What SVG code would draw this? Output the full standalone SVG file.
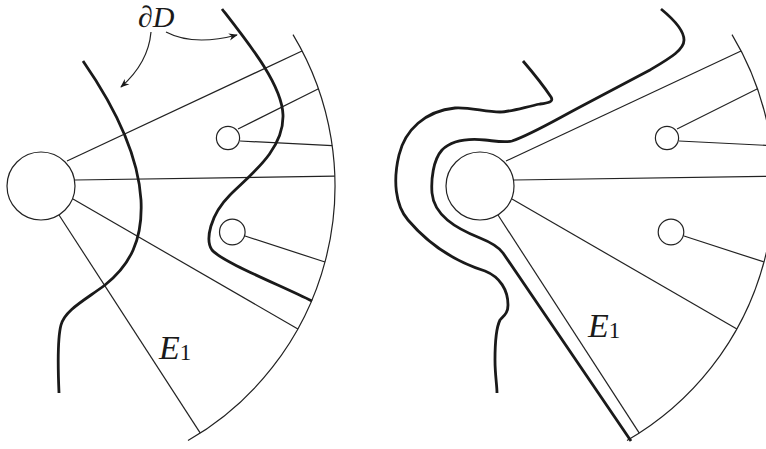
<svg xmlns="http://www.w3.org/2000/svg" width="766" height="449" viewBox="0 0 766 449">
<style>
.thin{fill:none;stroke:#222;stroke-width:1.2}
.thick{fill:none;stroke:#1a1a1a;stroke-width:2.8;stroke-linecap:butt;stroke-linejoin:round}
.node{fill:#fff;stroke:#222;stroke-width:1.2}
.lbl{font-family:"Liberation Serif","DejaVu Serif",serif;font-style:italic;fill:#1a1a1a}
.sub{font-family:"Liberation Serif","DejaVu Serif",serif;fill:#1a1a1a}
</style>
<defs>
<marker id="ah" viewBox="0 0 10 10" refX="9" refY="5" markerWidth="9" markerHeight="9" markerUnits="userSpaceOnUse" orient="auto">
<path d="M0,1 L10,5 L0,9 L3,5 Z" fill="#1a1a1a"/>
</marker>
</defs>
<rect width="766" height="449" fill="#fff"/>

<!-- left figure -->
<g id="connectors-left" class="thin">
<path d="M293,34.6 A294,294 0 0 1 188,440.6"/>
<line x1="67" y1="161" x2="302" y2="51"/>
<line x1="238" y1="129" x2="318.5" y2="88.8"/>
<line x1="240" y1="141" x2="332.2" y2="145.6"/>
<line x1="75" y1="180" x2="334.8" y2="176.2"/>
<line x1="245" y1="236" x2="325" y2="262"/>
<line x1="73" y1="199" x2="297.9" y2="329"/>
<line x1="59" y1="215" x2="200.3" y2="433.1"/>
</g>
<g id="node-left-big"><circle class="node" cx="41" cy="186" r="34"/></g>
<g id="node-left-s1"><circle class="node" cx="228" cy="138" r="11.6"/></g>
<g id="node-left-s2"><circle class="node" cx="232.3" cy="232" r="12.8"/></g>
<g id="boundary-left">
<path class="thick" d="M83,61 C110,100 138,150 141,200 C143,240 130,265 105,285 C85,300 65,310 61,325 C57,340 58,370 59,393"/>
<path class="thick" d="M222,9 C250,45 282,85 283,115 C284,150 250,175 230,195 C210,215 205,240 212,250 C222,262 280,285 312,301"/>
</g>
<g id="arrows" class="thin">
<path d="M151,32 C149,55 138,72 121,87" marker-end="url(#ah)"/>
<path d="M166,32 C185,42 210,42 237,35" marker-end="url(#ah)"/>
</g>
<text class="lbl" x="138" y="27" font-size="30">∂D</text>
<text class="lbl" x="159" y="359" font-size="34">E<tspan class="sub" font-style="normal" font-size="23" dy="1">1</tspan></text>

<!-- right figure -->
<g id="connectors-right" class="thin" transform="translate(439,0)">
<path d="M293,34.6 A294,294 0 0 1 188,440.6"/>
<line x1="67" y1="161" x2="302" y2="51"/>
<line x1="238" y1="129" x2="318.5" y2="88.8"/>
<line x1="240" y1="141" x2="332.2" y2="145.6"/>
<line x1="75" y1="180" x2="334.8" y2="176.2"/>
<line x1="245" y1="236" x2="325" y2="262"/>
<line x1="73" y1="199" x2="297.9" y2="329"/>
<line x1="59" y1="215" x2="200.3" y2="433.1"/>
</g>
<g id="node-right-big"><circle class="node" cx="480" cy="186" r="34"/></g>
<g id="node-right-s1"><circle class="node" cx="667" cy="138" r="11.6"/></g>
<g id="node-right-s2"><circle class="node" cx="671" cy="232" r="12.8"/></g>
<g id="boundary-right">
<path class="thick" d="M661,9 C672,18 684,30 684,40 C684,50 670,58 650,70 L580,107 C550,123 530,135 512,141 C505,143 495,141 485,140 C465,138 450,142 442,150 C433,160 431,180 432,193 C434,215 455,228 480,238 C490,242 498,246 503,253 L631,441"/>
<path class="thick" d="M523,61 C535,75 545,88 551,97 C554,102 548,103 540,104 C525,107 510,112 500,112 C485,112 470,107 455,108 C425,111 405,130 399,155 C393,180 395,205 408,220 C425,240 450,260 485,271 C500,277 508,290 508,305 C508,314 503,316 500,320 C496,328 495,345 495,360 C495,375 497,385 497,393"/>
</g>
<text class="lbl" x="588" y="337" font-size="34">E<tspan class="sub" font-style="normal" font-size="23" dy="1">1</tspan></text>
</svg>
